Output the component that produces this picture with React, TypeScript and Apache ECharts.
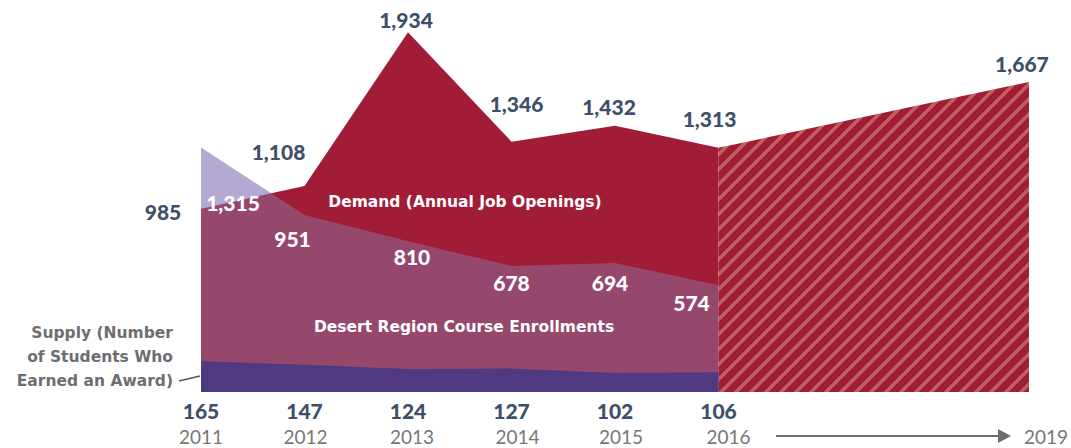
import React, { useEffect, useRef } from 'react';
import * as echarts from 'echarts';

const years = [2011, 2012, 2013, 2014, 2015, 2016];
const demand = [985, 1108, 1934, 1346, 1432, 1313];
const projectionYears = [2016, 2019];
const projection = [1313, 1667];
const enrollments = [1315, 951, 810, 678, 694, 574];
const supply = [165, 147, 124, 127, 102, 106];
const firstYear = 2011;
const lastYear = 2019;

const demandLabelOffsets = [[-38, 3], [-26, -34], [-2, -13], [5, -38], [-6, -19], [-9, -29]];
const projectionLabelOffset = [-7, -18];
const enrollLabelOffsets = [[32, 55], [-12, 23], [4, 15], [0, 17], [-5, 20], [-27, 17]];
const yearLabelShift = [0, 1, 4, 6, 6, 10];

const FONT = 'Lato, "Open Sans", sans-serif';
const TFONT = '"DejaVu Sans", Lato, sans-serif';
const RED = '#a11c37';
const SLATE = '#3e4f68';
const GRAY = '#777777';

const fmt = (n: number) => n.toLocaleString('en-US');

function makeHatch() {
  const s = 15;
  const w = 5;
  const c = document.createElement('canvas');
  c.width = s;
  c.height = s;
  const ctx = c.getContext('2d')!;
  const img = ctx.createImageData(s, s);
  for (let y = 0; y < s; y++) {
    for (let x = 0; x < s; x++) {
      const i = (y * s + x) * 4;
      const light = (x + y) % s < w;
      const col = light ? [192, 94, 93] : [161, 28, 55];
      img.data[i] = col[0];
      img.data[i + 1] = col[1];
      img.data[i + 2] = col[2];
      img.data[i + 3] = 255;
    }
  }
  ctx.putImageData(img, 0, 0);
  return c;
}

export default function App() {
  const ref = useRef<HTMLDivElement>(null);
  useEffect(() => {
    if (!ref.current) return;
    const chart = echarts.init(ref.current, undefined, { renderer: 'svg' });
    const hatch = makeHatch();
    const pts = (xs: number[], ys: number[]) => xs.map((x, i) => [x, ys[i]]);

    const labelBase = {
      show: true,
      position: 'inside',
      fontFamily: FONT,
      fontWeight: 900,
      fontSize: 21,
      textBorderWidth: 0,
    };

    const rich: any = {
      v: { fontFamily: FONT, fontSize: 21, fontWeight: 900, color: SLATE, lineHeight: 24 },
      z: { fontFamily: FONT, fontSize: 19, color: GRAY, lineHeight: 28, padding: [0, 0, 0, 34] },
    };
    yearLabelShift.forEach((s, i) => {
      rich['y' + i] = { fontFamily: FONT, fontSize: 19, color: GRAY, lineHeight: 28, padding: [0, 0, 0, 2 * s] };
    });

    const option: any = {
      animation: false,
      grid: { left: 201, right: 40, top: 20, bottom: 56 },
      xAxis: {
        type: 'value',
        min: firstYear,
        max: lastYear,
        interval: 1,
        axisLine: { show: false },
        axisTick: { show: false },
        splitLine: { show: false },
        axisLabel: {
          margin: 6,
          formatter: (v: number) => {
            const i = years.indexOf(v);
            if (i >= 0) return `{v|${supply[i]}}\n{y${i}|${v}}`;
            if (v === lastYear) return `{v| }\n{z|${v}}`;
            return '';
          },
          rich,
        },
      },
      yAxis: {
        type: 'value',
        min: 0,
        max: 2000,
        show: false,
        splitLine: { show: false },
      },
      series: [
        {
          name: 'Enrollments base',
          type: 'line',
          z: 1,
          data: pts(years, enrollments),
          symbol: 'none',
          lineStyle: { width: 0 },
          areaStyle: { color: 'rgb(209,188,227)', opacity: 1 },
        },
        {
          name: 'Demand',
          type: 'line',
          z: 2,
          data: pts(years, demand),
          symbol: 'none',
          lineStyle: { width: 0 },
          areaStyle: { color: RED, opacity: 1 },
        },
        {
          name: 'Demand projection',
          type: 'line',
          z: 2,
          data: pts(projectionYears, projection),
          symbol: 'none',
          lineStyle: { width: 0 },
          areaStyle: {
            color: { image: hatch, repeat: 'repeat', imageWidth: 15, imageHeight: 15 },
            opacity: 1,
          },
        },
        {
          name: 'Desert Region Course Enrollments',
          type: 'line',
          z: 3,
          data: pts(years, enrollments),
          symbol: 'none',
          lineStyle: { width: 0 },
          areaStyle: { color: 'rgba(134,141,187,0.4)', opacity: 1 },
        },
        {
          name: 'Supply',
          type: 'line',
          z: 4,
          data: pts(years, supply),
          symbol: 'none',
          lineStyle: { width: 0 },
          areaStyle: { color: '#4f3a82', opacity: 1 },
        },
        {
          name: 'Demand labels',
          type: 'scatter',
          z: 20,
          symbolSize: 1,
          itemStyle: { color: 'rgba(0,0,0,0)', opacity: 1 },
          silent: true,
          data: [
            ...years.map((y, i) => ({
              value: [y, demand[i]],
              label: { ...labelBase, color: SLATE, offset: demandLabelOffsets[i], formatter: fmt(demand[i]) },
            })),
            {
              value: [projectionYears[1], projection[1]],
              label: { ...labelBase, color: SLATE, offset: projectionLabelOffset, formatter: fmt(projection[1]) },
            },
          ],
        },
        {
          name: 'Enrollment labels',
          type: 'scatter',
          z: 20,
          symbolSize: 1,
          itemStyle: { color: 'rgba(0,0,0,0)', opacity: 1 },
          silent: true,
          data: years.map((y, i) => ({
            value: [y, enrollments[i]],
            label: { ...labelBase, color: '#ffffff', offset: enrollLabelOffsets[i], formatter: fmt(enrollments[i]) },
          })),
        },
      ],
      graphic: [
        {
          type: 'text',
          z: 50,
          x: 465,
          y: 202,
          style: {
            text: 'Demand (Annual Job Openings)',
            fill: '#ffffff',
            font: `bold 15.5px ${TFONT}`,
            align: 'center',
            verticalAlign: 'middle',
          },
        },
        {
          type: 'text',
          z: 50,
          x: 464,
          y: 327,
          style: {
            text: 'Desert Region Course Enrollments',
            fill: '#ffffff',
            font: `bold 15.5px ${TFONT}`,
            align: 'center',
            verticalAlign: 'middle',
          },
        },
        {
          type: 'text',
          z: 50,
          x: 173,
          y: 321,
          style: {
            text: 'Supply (Number\nof Students Who\nEarned an Award)',
            fill: '#6d6e71',
            font: `bold 15.5px ${TFONT}`,
            lineHeight: 24,
            align: 'right',
            verticalAlign: 'top',
          },
        },
        {
          type: 'line',
          z: 50,
          shape: { x1: 179, y1: 381, x2: 200, y2: 376 },
          style: { stroke: '#555555', lineWidth: 1.5 },
        },
        {
          type: 'line',
          z: 50,
          shape: { x1: 776, y1: 436, x2: 1000, y2: 436 },
          style: { stroke: '#6d6d6d', lineWidth: 2 },
        },
        {
          type: 'polygon',
          z: 50,
          shape: { points: [[998, 429], [1011, 436], [998, 443]] },
          style: { fill: '#6d6d6d' },
        },
      ],
    };
    chart.setOption(option);
    return () => chart.dispose();
  }, []);
  return (
    <div
      ref={ref}
      style={{ position: 'fixed', left: 0, top: 0, width: 1071, height: 448, background: '#ffffff' }}
    />
  );
}
